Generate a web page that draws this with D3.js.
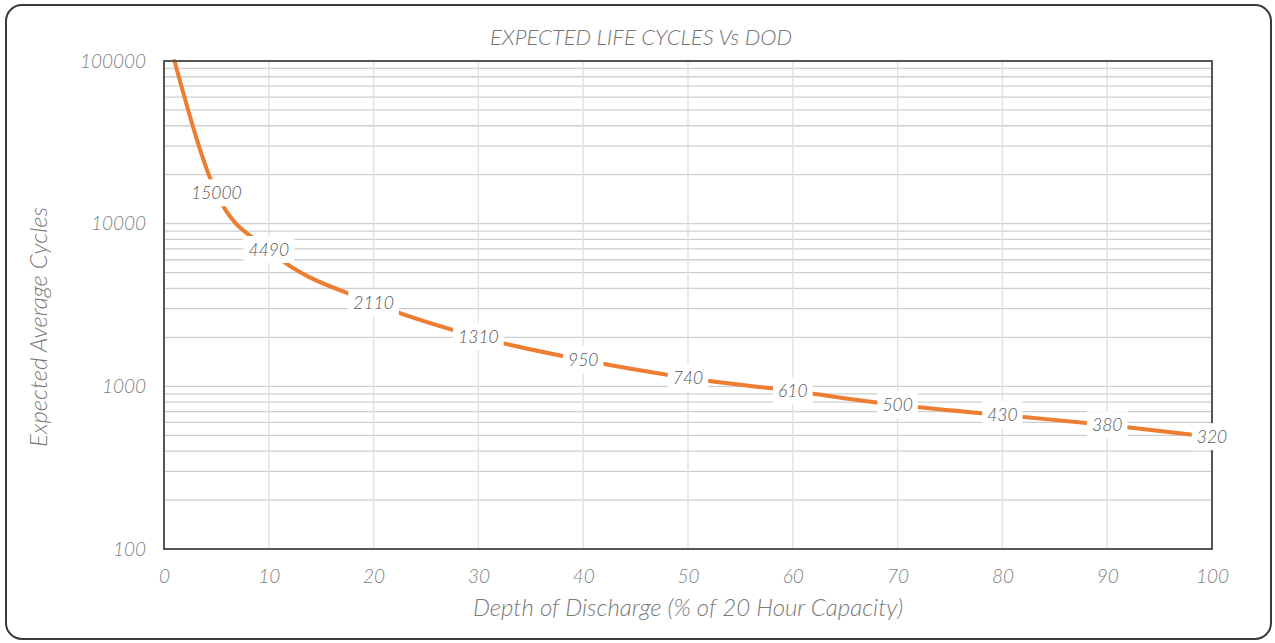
<!DOCTYPE html>
<html lang="en">
<head>
<meta charset="UTF-8">
<script src="https://cdn.jsdelivr.net/npm/d3@7/dist/d3.min.js"></script>
<title>Expected Life Cycles Vs DOD</title>
<style>
  body { margin: 0; background: #fff; }
  text { font-family: Lato, "Open Sans", sans-serif; font-style: italic; font-weight: 300; }
</style>
</head>
<body>
<svg width="1275" height="643"></svg>
<script>
// depth of discharge (%) and cycles as plotted
const dod = [1, 5, 10, 20, 30, 40, 50, 60, 70, 80, 90, 100];
const cycles = [100000, 15400, 6900, 3250, 2010, 1450, 1125, 935, 768, 666, 578, 488];
// the data label text printed on the chart
const pointLabels = [null, "15000", "4490", "2110", "1310", "950", "740", "610", "500", "430", "380", "320"];

const xTicks = [0, 10, 20, 30, 40, 50, 60, 70, 80, 90, 100];
const yTicks = [100, 1000, 10000, 100000];

const width = 1275, height = 643;
const margin = {top: 61, right: 63, bottom: 94, left: 164};

const svg = d3.select("svg");

// outer chart frame
svg.append("rect")
    .attr("x", 6).attr("y", 5)
    .attr("width", width - 10).attr("height", height - 9)
    .attr("rx", 16)
    .attr("fill", "#fff")
    .attr("stroke", "#3a3a3a")
    .attr("stroke-width", 2);

const x = d3.scaleLinear()
    .domain([0, 100])
    .range([margin.left, width - margin.right]);

const y = d3.scaleLog()
    .domain([100, 100000])
    .range([height - margin.bottom, margin.top]);

// minor + major log gridlines
const hLines = [];
[100, 1000, 10000].forEach(d => { for (let k = 1; k <= 9; k++) hLines.push(d * k); });

svg.append("g")
    .selectAll("line")
    .data(hLines)
    .join("line")
    .attr("x1", x(0)).attr("x2", x(100))
    .attr("y1", d => y(d)).attr("y2", d => y(d))
    .attr("stroke", "#cfcfcf")
    .attr("stroke-width", 1.3);

svg.append("g")
    .selectAll("line")
    .data(xTicks.slice(1, -1))
    .join("line")
    .attr("x1", d => x(d)).attr("x2", d => x(d))
    .attr("y1", y(100)).attr("y2", y(100000))
    .attr("stroke", "#e0e0e0")
    .attr("stroke-width", 1.3);

// x axis labels
const xAxis = svg.append("g")
    .attr("transform", `translate(0,${y(100)})`)
    .call(d3.axisBottom(x).tickValues(xTicks).tickSize(0).tickPadding(21).tickFormat(d3.format("d")));
xAxis.select(".domain").remove();
xAxis.selectAll("text")
    .attr("fill", "#7f7f7f")
    .style("font-size", "19px")
    .style("font-family", "Lato, sans-serif")
    .style("font-style", "italic")
    .style("font-weight", "300");

// y axis labels
const yAxis = svg.append("g")
    .attr("transform", `translate(${x(0)},0)`)
    .call(d3.axisLeft(y).tickValues(yTicks).tickSize(0).tickPadding(18).tickFormat(d3.format("d")));
yAxis.select(".domain").remove();
yAxis.selectAll("text")
    .attr("fill", "#7f7f7f")
    .style("font-size", "19px")
    .style("font-family", "Lato, sans-serif")
    .style("font-style", "italic")
    .style("font-weight", "300");

// the line
const line = d3.line()
    .curve(d3.curveMonotoneX)
    .x((d, i) => x(dod[i]))
    .y(d => y(d));

svg.append("path")
    .datum(cycles)
    .attr("fill", "none")
    .attr("stroke", "#ed7d31")
    .attr("stroke-width", 4)
    .attr("stroke-linecap", "round")
    .attr("d", line);

// plot frame
svg.append("rect")
    .attr("x", x(0)).attr("y", y(100000))
    .attr("width", x(100) - x(0))
    .attr("height", y(100) - y(100000))
    .attr("fill", "none")
    .attr("stroke", "#555")
    .attr("stroke-width", 2);

// data labels with white boxes
const lbl = svg.append("g")
    .selectAll("g")
    .data(cycles.map((c, i) => ({x: dod[i], v: c, t: pointLabels[i]})).filter(d => d.t))
    .join("g")
    .attr("transform", d => `translate(${x(d.x)},${y(d.v)})`);

lbl.append("rect");
lbl.append("text")
    .attr("text-anchor", "middle")
    .attr("dy", "0.35em")
    .attr("fill", "#555")
    .style("font-size", "17.5px")
    .text(d => d.t);

lbl.each(function() {
  const g = d3.select(this);
  const b = g.select("text").node().getBBox();
  g.select("rect")
      .attr("x", b.x - 5).attr("y", b.y - 3)
      .attr("width", b.width + 10).attr("height", b.height + 6)
      .attr("fill", "#fff");
});

// titles
svg.append("text")
    .attr("x", 641)
    .attr("y", 45)
    .attr("text-anchor", "middle")
    .attr("fill", "#737373")
    .style("font-size", "22px")
    .text("EXPECTED LIFE CYCLES Vs DOD");

svg.append("text")
    .attr("x", (x(0) + x(100)) / 2)
    .attr("y", 616)
    .attr("text-anchor", "middle")
    .attr("fill", "#7a7a7a")
    .style("font-size", "24px")
    .text("Depth of Discharge (% of 20 Hour Capacity)");

svg.append("text")
    .attr("transform", "translate(47,327) rotate(-90)")
    .attr("text-anchor", "middle")
    .attr("fill", "#7a7a7a")
    .style("font-size", "24px")
    .text("Expected Average Cycles");
</script>
</body>
</html>
